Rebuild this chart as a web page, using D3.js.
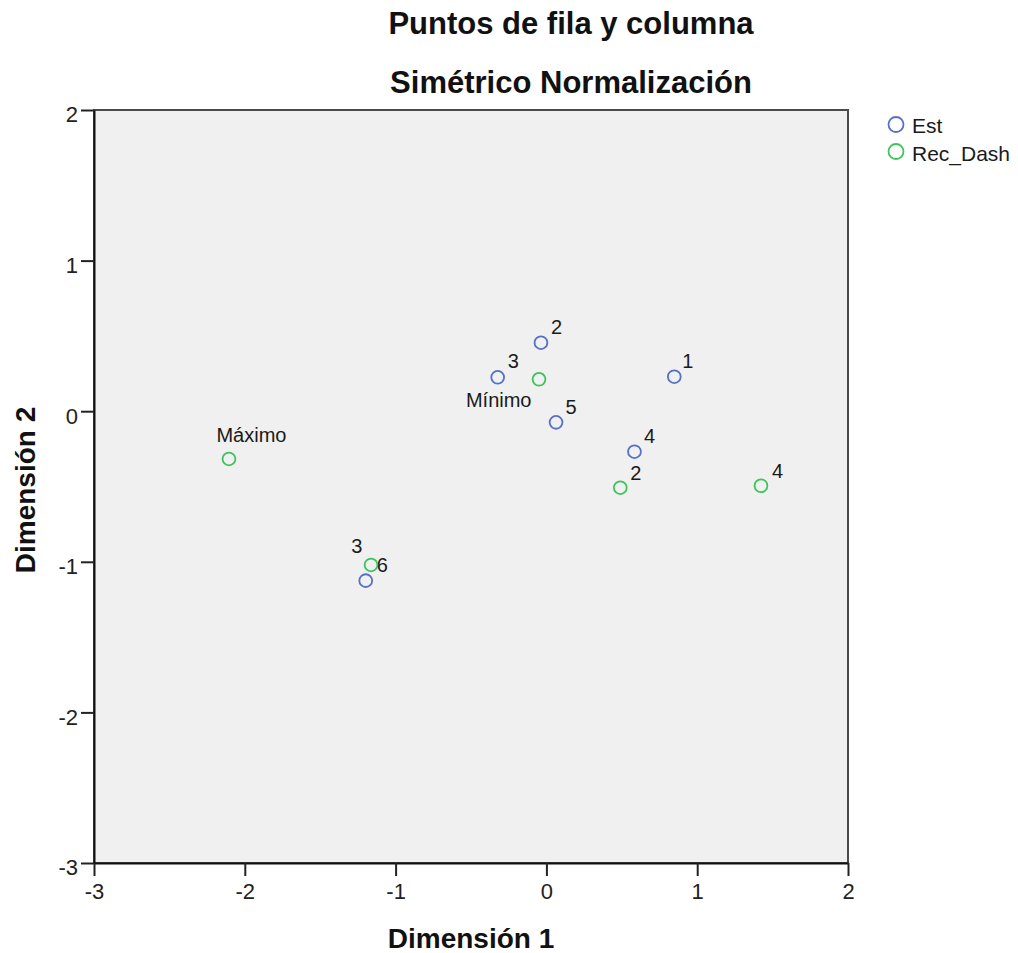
<!DOCTYPE html>
<html>
<head>
<meta charset="utf-8">
<script src="https://cdn.jsdelivr.net/npm/d3@7"></script>
<style>
  html, body { margin: 0; padding: 0; background: #ffffff; }
  svg { display: block; font-family: "Liberation Sans", Arial, sans-serif; }
</style>
</head>
<body>
<svg id="chart" width="1018" height="953"></svg>
<script>
// ---- data ----
const titleLines = ["Puntos de fila y columna", "Simétrico Normalización"];
const xAxisTitle = "Dimensión 1";
const yAxisTitle = "Dimensión 2";
const xTicks = [-3, -2, -1, 0, 1, 2];
const yTicks = [-3, -2, -1, 0, 1, 2];
const seriesNames = ["Est", "Rec_Dash"];

const estLabels = ["1", "2", "3", "4", "5", "6"];
const estX = [0.848, -0.036, -0.323, 0.584, 0.064, -1.198];
const estY = [0.229, 0.455, 0.225, -0.269, -0.074, -1.125];

const recLabels = ["Mínimo", "2", "3", "4", "Máximo"];
const recX = [-0.049, 0.490, -1.163, 1.423, -2.105];
const recY = [0.212, -0.508, -1.021, -0.495, -0.317];

// ---- label layout (placement only) ----
const estLabelLayout = [
  {dx: 8, dy: -8.7, anchor: "start"},
  {dx: 10, dy: -9, anchor: "start"},
  {dx: 10, dy: -9, anchor: "start"},
  {dx: 9.5, dy: -9, anchor: "start"},
  {dx: 9.5, dy: -8.5, anchor: "start"},
  {dx: 11, dy: -8.5, anchor: "start"}
];
const recLabelLayout = [
  {dx: -7.5, dy: 28, anchor: "end"},
  {dx: 10, dy: -7.7, anchor: "start"},
  {dx: -8.6, dy: -11.7, anchor: "end"},
  {dx: 11, dy: -7.7, anchor: "start"},
  {dx: -12.5, dy: -17, anchor: "start"}
];

const colors = ["#5570c8", "#3cc45a"];

// ---- layout ----
const svg = d3.select("#chart");
const plot = {left: 94, top: 110, right: 848, bottom: 863};

const x = d3.scaleLinear().domain([-3, 2]).range([plot.left, plot.right]);
const y = d3.scaleLinear().domain([-3, 2]).range([plot.bottom, plot.top]);

// background
svg.append("rect")
  .attr("x", plot.left).attr("y", plot.top)
  .attr("width", plot.right - plot.left).attr("height", plot.bottom - plot.top)
  .attr("fill", "#f0f0f0")
  .attr("stroke", "#4a4a4a").attr("stroke-width", 2);

// axes
const xAxis = d3.axisBottom(x).tickValues(xTicks).tickFormat(d3.format("d"))
  .tickSize(13).tickSizeOuter(0).tickPadding(8);
const yAxis = d3.axisLeft(y).tickValues(yTicks).tickFormat(d3.format("d"))
  .tickSize(13).tickSizeOuter(0).tickPadding(3);

const gx = svg.append("g").attr("transform", `translate(0,${plot.bottom})`).call(xAxis);
const gy = svg.append("g").attr("transform", `translate(${plot.left},0)`).call(yAxis);

[gx, gy].forEach(g => {
  g.select(".domain").attr("stroke", "#111").attr("stroke-width", 2);
  g.selectAll(".tick line").attr("stroke", "#222").attr("stroke-width", 2);
  g.selectAll(".tick text")
    .attr("fill", "#222")
    .style("font-size", "22px")
    .style("font-family", "'Liberation Sans', Arial, sans-serif");
});
gx.selectAll(".tick text").attr("dy", "0.68em").text(d => d3.format("d")(d).replace("−", "-"));
gy.selectAll(".tick text").attr("dy", "0.54em").text(d => d3.format("d")(d).replace("−", "-"));

// points
function drawSeries(xs, ys, labels, layout, color) {
  const data = xs.map((v, i) => ({x: v, y: ys[i], label: labels[i], lay: layout[i]}));
  const g = svg.append("g");
  g.selectAll("circle").data(data).enter().append("circle")
    .attr("cx", d => x(d.x)).attr("cy", d => y(d.y))
    .attr("r", 6.4)
    .attr("fill", "none").attr("stroke", color).attr("stroke-width", 1.8);
  g.selectAll("text").data(data).enter().append("text")
    .attr("x", d => x(d.x) + d.lay.dx)
    .attr("y", d => y(d.y) + d.lay.dy)
    .attr("text-anchor", d => d.lay.anchor)
    .attr("fill", "#1a1a1a")
    .style("font-size", "20px")
    .text(d => d.label);
}
drawSeries(estX, estY, estLabels, estLabelLayout, colors[0]);
drawSeries(recX, recY, recLabels, recLabelLayout, colors[1]);

// titles
svg.append("text").attr("x", 571).attr("y", 34).attr("text-anchor", "middle")
  .style("font-size", "31px").style("font-weight", "bold").attr("fill", "#111")
  .text(titleLines[0]);
svg.append("text").attr("x", 571).attr("y", 93).attr("text-anchor", "middle")
  .style("font-size", "31px").style("font-weight", "bold").attr("fill", "#111")
  .text(titleLines[1]);

svg.append("text").attr("x", (plot.left + plot.right) / 2).attr("y", 948)
  .attr("text-anchor", "middle")
  .style("font-size", "28px").style("font-weight", "bold").attr("fill", "#111")
  .text(xAxisTitle);
svg.append("text")
  .attr("transform", `translate(35,${490}) rotate(-90)`)
  .attr("text-anchor", "middle")
  .style("font-size", "28px").style("font-weight", "bold").attr("fill", "#111")
  .text(yAxisTitle);

// legend
const legend = svg.append("g");
seriesNames.forEach((name, i) => {
  legend.append("circle")
    .attr("cx", 896).attr("cy", 124.5 + i * 27)
    .attr("r", 7.5).attr("fill", "none")
    .attr("stroke", colors[i]).attr("stroke-width", 1.8);
  legend.append("text")
    .attr("x", 912).attr("y", 133 + i * 27.5)
    .style("font-size", "21px").attr("fill", "#1a1a1a")
    .text(name);
});
</script>
</body>
</html>
